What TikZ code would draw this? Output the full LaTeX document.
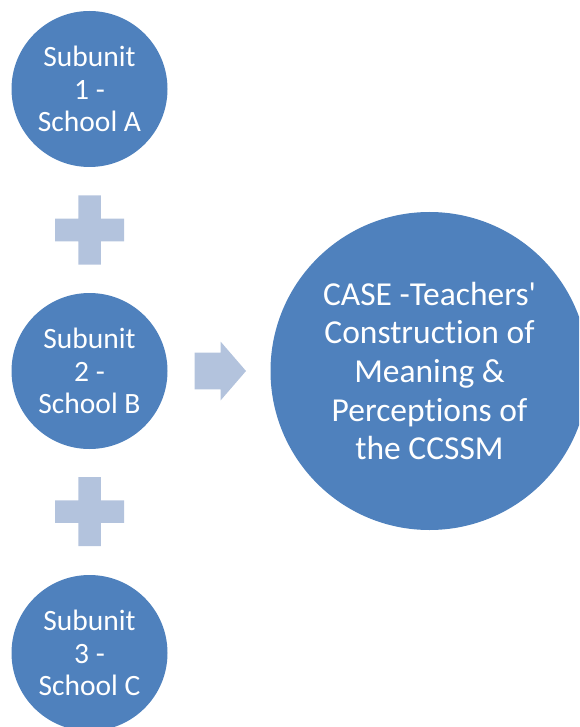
\documentclass[tikz,border=0pt]{standalone}
\usepackage{fontspec}
\setmainfont{Carlito}[Ligatures={NoCommon}]
\definecolor{circblue}{HTML}{4F81BD}
\definecolor{lightblue}{HTML}{B3C3DD}
\begin{document}
\begin{tikzpicture}[x=1pt,y=-1pt,
  small/.style={circle,fill=circblue,draw=none,minimum size=156pt,inner sep=0pt,
    text=white,align=center,font=\fontsize{29.5}{32.5}\selectfont},
  big/.style={circle,fill=circblue,draw=none,minimum size=318pt,inner sep=0pt,
    text=white,align=center,font=\fontsize{33.5}{38.7}\selectfont},
  light/.style={fill=lightblue,draw=none}]
\useasboundingbox (0,0) rectangle (579,727);
\clip (0,0) rectangle (579,727);
\node[small] (s1) at (89.5,89) {Subunit\\1 -\\School A};
\node[small] (s2) at (89.5,371) {Subunit\\2 -\\School B};
\node[small] (s3) at (89.5,653) {Subunit\\3 -\\School C};
\node[big] (case) at (429.5,371) {CASE -Teachers\textquotesingle\\Construction of\\Meaning \&\\Perceptions of\\the CCSSM};
% plus signs
\foreach \cy/\nm in {230/p1,511.5/p2}{
  \coordinate (\nm) at (89.5,\cy);
  \fill[light] ([shift={(-11.25,-34.5)}]\nm) -- ++(22.5,0) -- ++(0,23.25) -- ++(23.25,0)
    -- ++(0,22.5) -- ++(-23.25,0) -- ++(0,23.25) -- ++(-22.5,0) -- ++(0,-23.25)
    -- ++(-23.25,0) -- ++(0,-22.5) -- ++(23.25,0) -- cycle;
}
% arrow
\coordinate (ar) at (194.7,371);
\fill[light] ([shift={(0,-18.3)}]ar) -- ++(26,0) -- ++(0,-11) -- ++(25.3,29.3) -- ++(-25.3,29.3)
  -- ++(0,-11) -- ++(-26,0) -- cycle;
\end{tikzpicture}
\end{document}
